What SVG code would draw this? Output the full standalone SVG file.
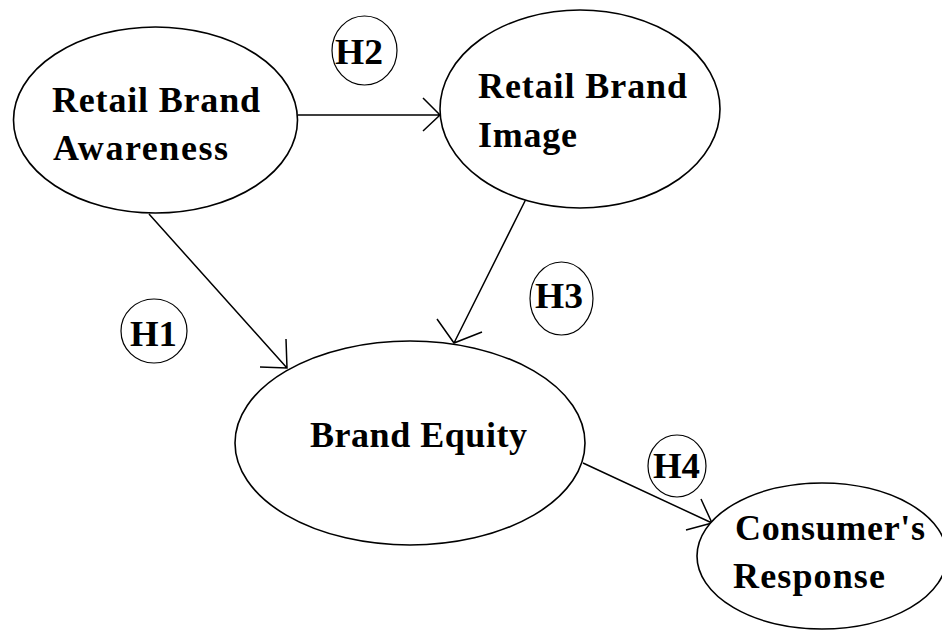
<svg xmlns="http://www.w3.org/2000/svg" width="942" height="631" viewBox="0 0 942 631">
<defs>
<style>
.node{fill:#fff;stroke:#000;stroke-width:1.6}
.hyp{fill:#fff;stroke:#000;stroke-width:1.2}
.lbl{font-family:"Liberation Serif","Times New Roman",serif;font-weight:bold;font-size:36px;fill:#000}
.hl{font-family:"Liberation Serif","Times New Roman",serif;font-weight:bold;font-size:36px;fill:#000}
.edge{fill:none;stroke:#000;stroke-width:1.5}
</style>
</defs>
<rect width="942" height="631" fill="#fff"/>
<g id="connectors">
<path class="edge" d="M298,115 L440,115 M423,98 L440,115 L423,131"/>
<path class="edge" d="M149,214 L287,368 M286,339 L287,368 L260,367"/>
<path class="edge" d="M526,199 L454,343 M437,319 L454,343 L482,332"/>
<path class="edge" d="M583,463 L712,523 M701,499 L712,523 L686,530"/>
</g>
<g id="node-awareness">
<ellipse class="node" cx="155.5" cy="120" rx="142" ry="93"/>
<text class="lbl" x="52" y="112" textLength="208" lengthAdjust="spacing">Retail Brand</text>
<text class="lbl" x="53" y="160" textLength="175" lengthAdjust="spacing">Awareness</text>
</g>
<g id="node-image">
<ellipse class="node" cx="580" cy="109" rx="140" ry="99"/>
<text class="lbl" x="478" y="98" textLength="209" lengthAdjust="spacing">Retail Brand</text>
<text class="lbl" x="478" y="147" textLength="99" lengthAdjust="spacing">Image</text>
</g>
<g id="node-equity">
<ellipse class="node" cx="410" cy="443" rx="175" ry="102"/>
<text class="lbl" x="310" y="447" textLength="217" lengthAdjust="spacing">Brand Equity</text>
</g>
<g id="node-response">
<ellipse class="node" cx="822" cy="556" rx="125" ry="73"/>
<text class="lbl" x="735" y="540" textLength="190" lengthAdjust="spacing">Consumer's</text>
<text class="lbl" x="733" y="588" textLength="152" lengthAdjust="spacing">Response</text>
</g>
<g id="h1">
<ellipse class="hyp" cx="154" cy="331" rx="33" ry="32"/>
<text class="hl" x="130" y="346" textLength="47" lengthAdjust="spacingAndGlyphs">H1</text>
</g>
<g id="h2">
<ellipse class="hyp" cx="364.5" cy="50.5" rx="32.5" ry="34.5"/>
<text class="hl" x="335" y="64" textLength="48" lengthAdjust="spacingAndGlyphs">H2</text>
</g>
<g id="h3">
<ellipse class="hyp" cx="561.5" cy="298.5" rx="31.5" ry="36.5"/>
<text class="hl" x="535" y="308" textLength="48" lengthAdjust="spacingAndGlyphs">H3</text>
</g>
<g id="h4">
<ellipse class="hyp" cx="677" cy="466" rx="29" ry="31"/>
<text class="hl" x="653" y="478" textLength="47" lengthAdjust="spacingAndGlyphs">H4</text>
</g>
</svg>
